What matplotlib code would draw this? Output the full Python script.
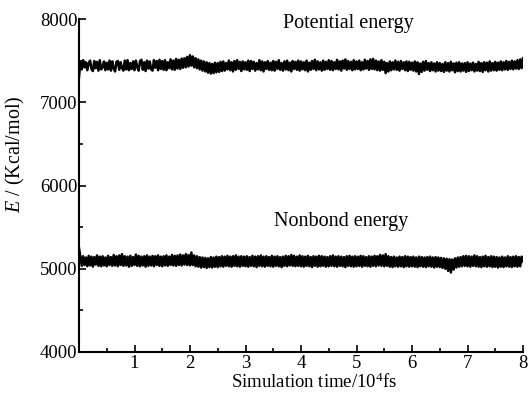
import matplotlib
matplotlib.use("Agg")
import matplotlib.pyplot as plt
import numpy as np
from matplotlib.ticker import MultipleLocator

plt.rcParams['font.family'] = ['Liberation Serif', 'DejaVu Serif']
plt.rcParams['mathtext.fontset'] = 'custom'
plt.rcParams['mathtext.rm'] = 'Liberation Serif'
plt.rcParams['mathtext.it'] = 'Liberation Serif:italic'

# energies, one sample every 0.025 x 10^4 fs
potential = [
    7300, 7490, 7395, 7505, 7420, 7480, 7385, 7470, 7500, 7400, 7375, 7495, 7410, 7485, 7380, 7505, 7395, 7420, 7490, 7385,
    7475, 7395, 7500, 7380, 7490, 7405, 7370, 7485, 7495, 7390, 7480, 7410, 7380, 7500, 7395, 7505, 7385, 7470, 7400, 7490,
    7385, 7500, 7420, 7380, 7495, 7510, 7390, 7480, 7375, 7500, 7405, 7490, 7395, 7380, 7505, 7415, 7495, 7385, 7510, 7400,
    7495, 7390, 7505, 7385, 7480, 7410, 7515, 7395, 7500, 7390, 7520, 7405, 7510, 7400, 7525, 7415, 7530, 7420, 7545, 7430,
    7565, 7440, 7550, 7420, 7530, 7410, 7515, 7395, 7500, 7380, 7490, 7370, 7480, 7355, 7470, 7345, 7460, 7350, 7475, 7360,
    7470, 7365, 7485, 7375, 7490, 7380, 7470, 7395, 7500, 7385, 7480, 7370, 7495, 7390, 7505, 7400, 7485, 7375, 7490, 7395,
    7480, 7390, 7500, 7375, 7495, 7400, 7485, 7380, 7470, 7395, 7505, 7385, 7490, 7370, 7480, 7400, 7495, 7390, 7475, 7385,
    7495, 7380, 7485, 7400, 7505, 7390, 7470, 7380, 7490, 7395, 7500, 7385, 7475, 7370, 7495, 7400, 7485, 7390, 7500, 7380,
    7490, 7395, 7480, 7385, 7500, 7370, 7475, 7390, 7495, 7400, 7510, 7385, 7490, 7395, 7480, 7380, 7500, 7390, 7485, 7400,
    7505, 7390, 7495, 7385, 7480, 7400, 7510, 7395, 7490, 7380, 7500, 7405, 7515, 7390, 7495, 7400, 7485, 7385, 7505, 7395,
    7490, 7400, 7500, 7385, 7480, 7395, 7510, 7405, 7495, 7390, 7515, 7400, 7520, 7395, 7500, 7385, 7490, 7380, 7505, 7390,
    7485, 7350, 7470, 7370, 7490, 7385, 7480, 7395, 7500, 7390, 7485, 7380, 7495, 7400, 7480, 7385, 7490, 7375, 7485, 7390,
    7475, 7380, 7490, 7370, 7480, 7340, 7465, 7365, 7485, 7380, 7495, 7390, 7470, 7375, 7480, 7385, 7465, 7370, 7480, 7380,
    7470, 7375, 7460, 7365, 7480, 7380, 7470, 7370, 7485, 7385, 7465, 7360, 7475, 7375, 7480, 7370, 7465, 7380, 7470, 7365,
    7480, 7375, 7465, 7385, 7475, 7370, 7460, 7380, 7485, 7375, 7470, 7365, 7480, 7385, 7475, 7370, 7490, 7380, 7470, 7385,
    7485, 7380, 7475, 7390, 7490, 7385, 7480, 7395, 7495, 7390, 7485, 7400, 7500, 7395, 7490, 7405, 7505, 7400, 7515, 7410,
    7530,
]

nonbond = [
    5250, 5140, 5035, 5150, 5045, 5135, 5030, 5155, 5040, 5145, 5025, 5140, 5050, 5160, 5035, 5145, 5030, 5150, 5040, 5135,
    5030, 5155, 5045, 5140, 5035, 5165, 5040, 5150, 5030, 5160, 5045, 5175, 5035, 5150, 5040, 5145, 5025, 5155, 5035, 5140,
    5045, 5170, 5035, 5155, 5030, 5145, 5040, 5150, 5025, 5160, 5035, 5145, 5040, 5155, 5030, 5150, 5045, 5160, 5035, 5145,
    5030, 5150, 5040, 5160, 5035, 5145, 5045, 5165, 5040, 5155, 5035, 5160, 5045, 5170, 5040, 5160, 5050, 5175, 5045, 5165,
    5040, 5195, 5045, 5160, 5030, 5150, 5025, 5140, 5015, 5135, 5020, 5130, 5010, 5125, 5020, 5140, 5015, 5135, 5025, 5145,
    5020, 5140, 5030, 5150, 5025, 5145, 5035, 5155, 5030, 5145, 5025, 5150, 5035, 5160, 5030, 5145, 5025, 5150, 5035, 5145,
    5030, 5150, 5025, 5140, 5035, 5155, 5030, 5145, 5020, 5150, 5035, 5160, 5030, 5145, 5025, 5150, 5035, 5140, 5030, 5155,
    5025, 5145, 5035, 5150, 5030, 5140, 5020, 5145, 5035, 5155, 5030, 5150, 5040, 5165, 5035, 5155, 5030, 5145, 5035, 5160,
    5030, 5150, 5025, 5145, 5035, 5155, 5030, 5140, 5020, 5150, 5035, 5145, 5025, 5155, 5030, 5150, 5035, 5145, 5025, 5140,
    5030, 5150, 5035, 5160, 5030, 5145, 5025, 5150, 5035, 5145, 5030, 5140, 5020, 5150, 5035, 5155, 5030, 5145, 5025, 5150,
    5030, 5145, 5035, 5155, 5025, 5150, 5035, 5140, 5030, 5150, 5025, 5145, 5035, 5155, 5030, 5150, 5040, 5165, 5035, 5160,
    5030, 5175, 5035, 5150, 5025, 5140, 5020, 5145, 5030, 5135, 5025, 5145, 5030, 5140, 5020, 5150, 5030, 5145, 5025, 5140,
    5030, 5145, 5025, 5135, 5020, 5145, 5030, 5140, 5025, 5135, 5020, 5140, 5030, 5145, 5025, 5135, 5015, 5140, 5025, 5135,
    5020, 5130, 5010, 5125, 5000, 5120, 4975, 5115, 4955, 5110, 4990, 5125, 5015, 5135, 5025, 5140, 5030, 5150, 5035, 5155,
    5030, 5150, 5025, 5145, 5035, 5160, 5030, 5150, 5025, 5140, 5020, 5145, 5030, 5155, 5025, 5140, 5030, 5150, 5020, 5145,
    5025, 5140, 5015, 5135, 5025, 5145, 5020, 5135, 5030, 5150, 5025, 5140, 5020, 5145, 5030, 5150, 5025, 5140, 5030, 5145,
    5090,
]

time = np.arange(len(potential)) * 0.025

xticks = [1, 2, 3, 4, 5, 6, 7, 8]
yticks = [4000, 5000, 6000, 7000, 8000]

fig = plt.figure(figsize=(5.28, 4.03), dpi=100)
ax = fig.add_axes([79 / 528, 1 - 352 / 403, 444 / 528, 333 / 403])

ax.plot(time, potential, color='black', lw=1.8)
ax.plot(time[:len(nonbond)], nonbond, color='black', lw=1.8)

ax.set_xlim(0, 8)
ax.set_ylim(4000, 8000)
ax.set_xticks(xticks)
ax.set_yticks(yticks)
ax.xaxis.set_minor_locator(MultipleLocator(0.5))
ax.yaxis.set_minor_locator(MultipleLocator(500))
ax.tick_params(which='both', direction='in', labelsize=13.5, width=1.2)
ax.tick_params(which='major', length=5)
ax.tick_params(which='minor', length=3)
ax.tick_params(axis='x', pad=2)
ax.tick_params(axis='y', pad=1)

for side in ['top', 'right']:
    ax.spines[side].set_visible(False)
for side in ['left', 'bottom']:
    ax.spines[side].set_linewidth(1.5)

ax.text(4.85, 7950, 'Potential energy', ha='center', va='center', fontsize=14.5)
ax.text(4.72, 5566, 'Nonbond energy', ha='center', va='center', fontsize=14.5)

fig.text(314 / 528, 1 - 382 / 403, 'Simulation time/10$^4$fs',
         ha='center', va='center', fontsize=13.5)
fig.text(15 / 528, 1 - 154 / 403, '$E$ / (Kcal/mol)', rotation=90,
         ha='center', va='center', fontsize=14.5)

fig.savefig('out.png', dpi=100)
